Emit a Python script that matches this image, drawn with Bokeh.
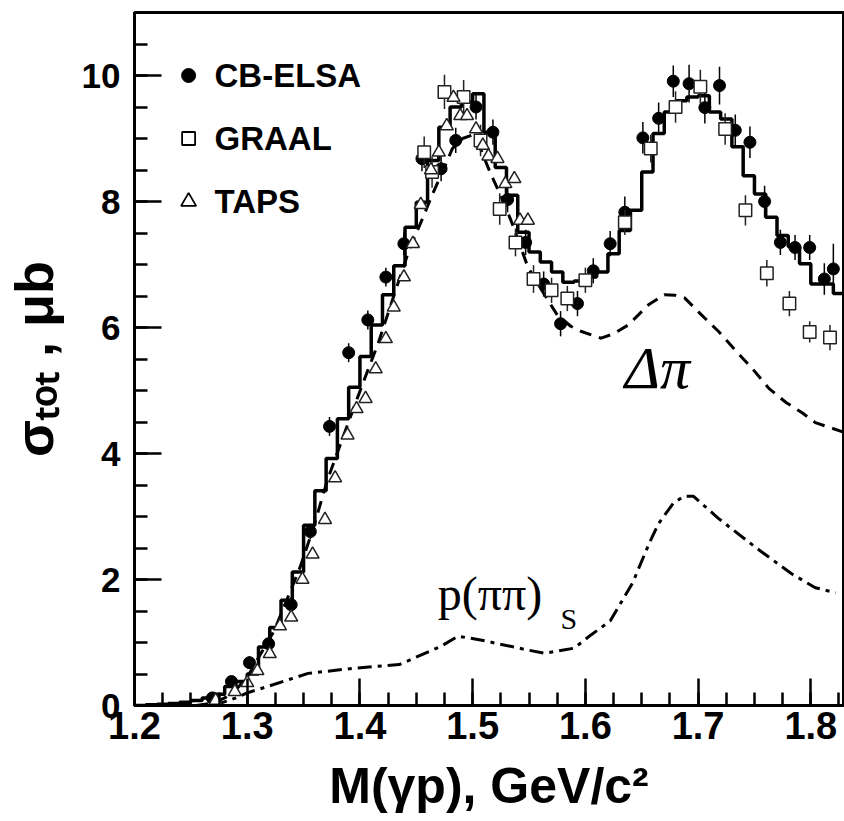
from bokeh.plotting import figure
from bokeh.layouts import row
from bokeh.models import Range1d, FixedTicker
from bokeh.core.properties import value
from bokeh.embed import file_html
from bokeh.resources import INLINE

# ---------------- data ----------------
x_ticks = [1.2, 1.3, 1.4, 1.5, 1.6, 1.7, 1.8]
x_tick_labels = ["1.2", "1.3", "1.4", "1.5", "1.6", "1.7", "1.8"]
y_ticks = [0, 2, 4, 6, 8, 10]
y_tick_labels = ["0", "2", "4", "6", "8", "10"]

x_title = "M(γp), GeV/c²"
y_title = "σₜₒₜ , μb"

# model histogram, bins of 0.01 starting at 1.20
hist_start = 1.20
hist_width = 0.01
hist_vals = [0.00, 0.01, 0.02, 0.03, 0.05, 0.08, 0.12, 0.18, 0.30, 0.38,
             0.50, 0.93, 1.24, 1.67, 2.12, 2.86, 3.41, 3.92, 4.55, 5.05,
             5.54, 6.04, 6.52, 6.98, 7.59, 7.99, 8.65, 9.18, 9.50, 9.58,
             9.71, 9.10, 8.54, 8.10, 7.51, 7.20, 7.04, 6.88, 6.72, 6.74,
             6.80, 6.88, 7.17, 7.54, 7.86, 8.47, 9.08, 9.42, 9.60, 9.66,
             9.68, 9.42, 9.31, 8.87, 8.41, 8.12, 7.75, 7.46, 7.28, 7.01,
             6.69, 6.69, 6.54]

# Delta-pi contribution (dashed)
dpi_x = [1.255, 1.27, 1.28, 1.29, 1.30, 1.312, 1.324, 1.335, 1.347, 1.358, 1.371,
         1.385, 1.396, 1.407, 1.416, 1.430, 1.444, 1.456, 1.464, 1.474, 1.482,
         1.491, 1.499, 1.506, 1.516, 1.525, 1.534, 1.549, 1.561, 1.575, 1.587,
         1.596, 1.614, 1.625, 1.638, 1.656, 1.670, 1.680, 1.688, 1.703, 1.718,
         1.733, 1.748, 1.763, 1.778, 1.792, 1.804, 1.829]
dpi_y = [0.0, 0.04, 0.12, 0.25, 0.45, 0.82, 1.19, 1.67, 2.20, 2.78, 3.57,
         4.26, 4.80, 5.32, 5.74, 6.50, 7.25, 7.75, 8.10, 8.50, 8.84,
         9.00, 9.05, 8.88, 8.44, 8.09, 7.70, 6.96, 6.60, 6.20, 6.02,
         5.94, 5.83, 5.90, 6.04, 6.36, 6.52, 6.51, 6.47, 6.20, 5.94,
         5.64, 5.35, 5.03, 4.81, 4.65, 4.49, 4.34]

# p(pipi)_S contribution (dash-dot)
ppp_x = [1.27, 1.29, 1.30, 1.316, 1.354, 1.394, 1.435, 1.472, 1.487, 1.507,
         1.549, 1.564, 1.590, 1.605, 1.622, 1.642, 1.657, 1.665, 1.678, 1.687,
         1.696, 1.718, 1.751, 1.783, 1.804, 1.822]
ppp_y = [0.0, 0.12, 0.20, 0.29, 0.51, 0.59, 0.65, 0.94, 1.10, 1.04,
         0.88, 0.83, 0.91, 1.12, 1.34, 1.95, 2.59, 2.89, 3.21, 3.32,
         3.32, 2.97, 2.51, 2.09, 1.87, 1.79]

# CB-ELSA
cb_x = [1.269, 1.286, 1.302, 1.319, 1.339, 1.356, 1.373, 1.390, 1.407, 1.423,
        1.439, 1.455, 1.472, 1.485, 1.503, 1.518, 1.531, 1.547, 1.563, 1.578,
        1.593, 1.607, 1.622, 1.635, 1.651, 1.665, 1.678, 1.692, 1.706, 1.719,
        1.733, 1.746, 1.759, 1.773, 1.786, 1.799, 1.812, 1.820]
cb_y = [0.12, 0.38, 0.68, 0.98, 1.60, 2.76, 4.43, 5.60, 6.12, 6.80,
        7.33, 8.68, 8.52, 8.97, 9.50, 9.10, 8.03, 7.35, 6.69, 6.06,
        6.38, 6.90, 7.33, 7.83, 9.01, 9.32, 9.91, 9.87, 9.49, 9.84,
        9.13, 8.94, 8.00, 7.35, 7.27, 7.27, 6.77, 6.93]
cb_err = [0.05, 0.08, 0.10, 0.10, 0.12, 0.12, 0.15, 0.15, 0.15, 0.15,
          0.18, 0.20, 0.20, 0.20, 0.20, 0.20, 0.20, 0.20, 0.20, 0.20,
          0.20, 0.20, 0.20, 0.25, 0.25, 0.25, 0.25, 0.30, 0.25, 0.30,
          0.25, 0.25, 0.25, 0.20, 0.20, 0.20, 0.25, 0.40]

# GRAAL
gr_x = [1.457, 1.464, 1.475, 1.492, 1.507, 1.524, 1.538, 1.554, 1.570, 1.584,
        1.600, 1.635, 1.658, 1.680, 1.702, 1.724, 1.742, 1.761, 1.781, 1.799, 1.817]
gr_y = [8.78, 8.47, 9.74, 9.66, 8.97, 7.88, 7.35, 6.77, 6.59, 6.46,
        6.75, 7.67, 8.84, 9.50, 9.82, 9.15, 7.86, 6.86, 6.38, 5.93, 5.84]
gr_err = [0.25, 0.25, 0.27, 0.27, 0.25, 0.25, 0.22, 0.22, 0.20, 0.20,
          0.20, 0.20, 0.22, 0.25, 0.27, 0.25, 0.24, 0.21, 0.20, 0.17, 0.20]

# TAPS
tp_x = [1.272, 1.289, 1.300, 1.309, 1.320, 1.329, 1.339, 1.349, 1.358, 1.369,
        1.378, 1.389, 1.397, 1.405, 1.414, 1.423, 1.430, 1.439, 1.447, 1.454,
        1.463, 1.470, 1.477, 1.483, 1.489, 1.495, 1.503, 1.509, 1.514, 1.522,
        1.529, 1.537, 1.542, 1.549]
tp_y = [0.08, 0.22, 0.36, 0.55, 0.82, 1.26, 1.40, 2.00, 2.40, 2.95,
        3.61, 4.29, 4.71, 4.87, 5.34, 5.82, 6.32, 6.80, 7.33, 7.95,
        8.50, 8.78, 9.20, 9.65, 9.36, 9.36, 9.15, 8.89, 8.72, 8.68,
        8.28, 8.36, 7.70, 7.70]

legend_labels = ["CB-ELSA", "GRAAL", "TAPS"]
legend_rows = [10, 9, 8]

W, H = 844, 821
LEFT_W = 78
TOP, BOTTOM = 12, 116

# ---------------- main figure ----------------
p = figure(width=W - LEFT_W, height=H,
           x_range=Range1d(1.2, 1.829), y_range=Range1d(0, 11),
           output_backend="svg", toolbar_location=None,
           min_border_left=133 - LEFT_W, min_border_right=1,
           min_border_top=TOP, min_border_bottom=BOTTOM)
p.xgrid.visible = False
p.ygrid.visible = False
p.outline_line_color = "black"
p.outline_line_width = 3
p.outline_line_alpha = 1.0

x_minor = [round(1.2 + 0.025 * i, 3) for i in range(26)]
y_minor = [0.5 * i for i in range(23)]
p.xaxis.ticker = FixedTicker(ticks=x_ticks, minor_ticks=x_minor)
p.yaxis.ticker = FixedTicker(ticks=y_ticks, minor_ticks=y_minor)
p.xaxis.major_label_overrides = {t: l for t, l in zip(x_ticks, x_tick_labels)}
p.yaxis.major_label_overrides = {t: l for t, l in zip(y_ticks, y_tick_labels)}

for ax in (p.xaxis[0], p.yaxis[0]):
    ax.axis_line_width = 3
    ax.axis_line_color = "black"
    ax.major_tick_in = 27
    ax.major_tick_out = 0
    ax.minor_tick_in = 13
    ax.minor_tick_out = 0
    ax.major_tick_line_width = 2.5
    ax.minor_tick_line_width = 2.5
    ax.major_tick_line_color = "black"
    ax.minor_tick_line_color = "black"
    ax.major_label_text_font = "Liberation Sans"
    ax.major_label_text_font_style = "bold"
    ax.major_label_text_color = "black"

p.xaxis.major_label_text_font_size = "38px"
p.xaxis.major_label_standoff = 6
p.yaxis.major_label_text_font_size = "35px"
p.yaxis.major_label_standoff = 14

p.xaxis.axis_label = x_title
p.xaxis.axis_label_text_font = "Liberation Sans"
p.xaxis.axis_label_text_font_style = "bold"
p.xaxis.axis_label_text_font_size = "50px"
p.xaxis.axis_label_text_color = "black"
p.xaxis.axis_label_standoff = 16

# ---------------- y title strip: an axis that only carries the title ----------------
yt = figure(width=LEFT_W, height=H, x_range=Range1d(0, 1), y_range=p.y_range,
            x_axis_location=None, y_axis_location="left",
            output_backend="svg", toolbar_location=None,
            min_border_left=4, min_border_right=0,
            min_border_top=TOP, min_border_bottom=BOTTOM)
yt.outline_line_color = None
yt.xgrid.visible = False
yt.ygrid.visible = False
ya = yt.yaxis[0]
ya.ticker = FixedTicker(ticks=[], minor_ticks=[])
ya.axis_line_color = None
ya.major_tick_line_color = None
ya.minor_tick_line_color = None
ya.major_tick_out = 0
ya.minor_tick_out = 0
ya.major_label_text_font_size = "0px"
ya.major_label_standoff = 0
ya.axis_label = y_title
ya.axis_label_standoff = 0
ya.axis_label_text_font = "Liberation Sans"
ya.axis_label_text_font_style = "bold"
ya.axis_label_text_font_size = "54px"
ya.axis_label_text_color = "black"

# ---------------- curves ----------------
edges = [round(hist_start + hist_width * i, 2) for i in range(len(hist_vals) + 1)]
p.step(edges, hist_vals + [hist_vals[-1]], mode="after",
       line_color="black", line_width=3.5)
p.line(dpi_x, dpi_y, line_color="black", line_width=3, line_dash="12 8")
p.line(ppp_x, ppp_y, line_color="black", line_width=3, line_dash="14 6 4 6")

# ---------------- data points ----------------
cb_lo = [y - e for y, e in zip(cb_y, cb_err)]
cb_hi = [y + e for y, e in zip(cb_y, cb_err)]
gr_lo = [y - e for y, e in zip(gr_y, gr_err)]
gr_hi = [y + e for y, e in zip(gr_y, gr_err)]

p.segment(cb_x, cb_lo, cb_x, cb_hi, line_color="black", line_width=1.5)
p.scatter(cb_x, cb_y, marker="circle", size=12, fill_color="black", line_color="black")
p.segment(gr_x, gr_lo, gr_x, gr_hi, line_color="#222222", line_width=1.5)
p.scatter(gr_x, gr_y, marker="square", size=12.5, fill_color="white",
          line_color="#222222", line_width=1.5)
p.scatter(tp_x, tp_y, marker="triangle", size=13, fill_color="white",
          line_color="#222222", line_width=1.5)

# ---------------- legend ----------------
lx_marker = 1.248
lx_text = 1.271
p.scatter([lx_marker], [legend_rows[0]], marker="circle", size=14, fill_color="black", line_color="black")
p.scatter([lx_marker], [legend_rows[1]], marker="square", size=13, fill_color="white",
          line_color="black", line_width=1.8)
p.scatter([lx_marker], [legend_rows[2]], marker="triangle", size=15, fill_color="white",
          line_color="black", line_width=1.8)
p.text([lx_text] * 3, legend_rows, text=legend_labels,
       text_font=value("Liberation Sans"), text_font_style="bold",
       text_font_size="33px", text_baseline="middle", text_color="black")

# ---------------- annotations ----------------
p.text([1.635], [5.35], text=["Δπ"], text_font=value("Liberation Serif"),
       text_font_style="italic", text_font_size="60px",
       text_baseline="middle", text_color="black")
p.text([1.469], [1.78], text=["p(ππ)"], text_font=value("Liberation Serif"),
       text_font_size="48px", text_baseline="middle", text_color="black")
p.text([1.578], [1.38], text=["S"], text_font=value("Liberation Serif"),
       text_font_size="30px", text_baseline="middle", text_color="black")

open("out.html", "w").write(file_html(row(yt, p), INLINE))
